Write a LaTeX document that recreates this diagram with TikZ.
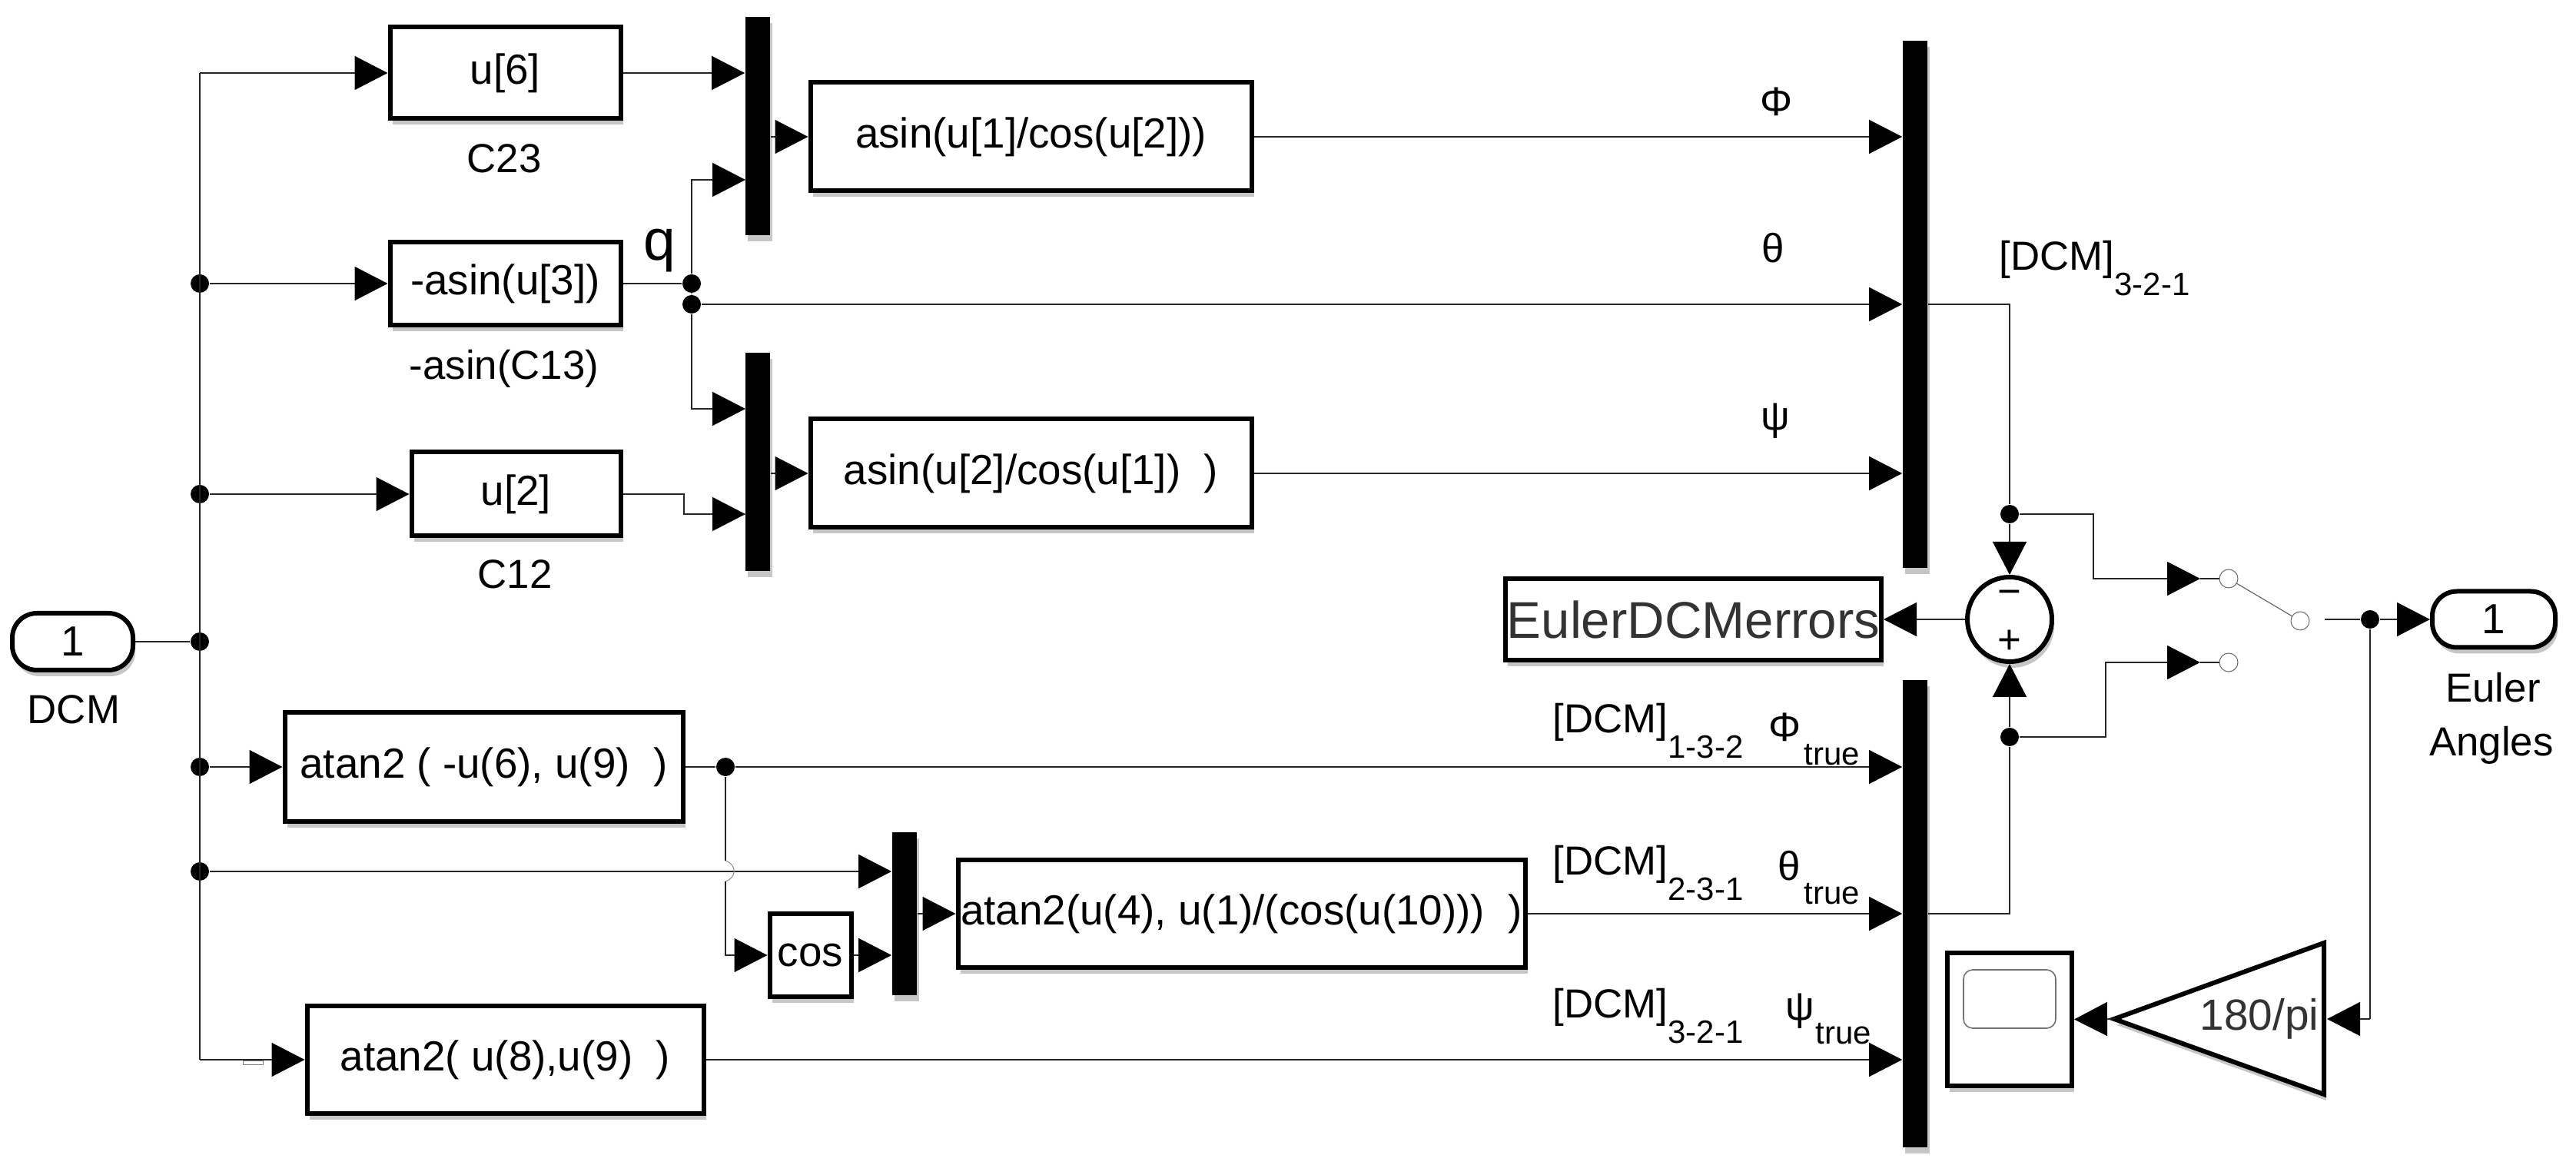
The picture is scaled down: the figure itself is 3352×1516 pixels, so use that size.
\documentclass[tikz,border=0pt]{standalone}
\usepackage{fontspec}
\setmainfont{Liberation Sans}
\usetikzlibrary{arrows.meta,shadows,calc}
\newcommand{\sublab}[1]{\lower8.25pt\hbox{\fontsize{10.5}{12}\selectfont #1}}
\tikzset{
  wh/.style 2 args={minimum width=#1*.25pt,minimum height=#2*.25pt},
  shad/.style={drop shadow={shadow xshift=.8pt,shadow yshift=-2pt,opacity=.45}},
  blk/.style={draw=black,fill=white,line width=1.5pt,inner sep=0pt,shad,font=\fontsize{13.7}{16}\selectfont,text=black},
  muxbar/.style={draw=none,fill=black,inner sep=0pt,minimum width=8pt,shad},
  conn/.style={draw=black!85,line width=.36pt},
  arr/.style={conn,-{Triangle[length=10.75pt,width=11pt]},arrows={-{Triangle[length=10.75pt,width=11pt,color=black]}}},
  jun/.style={circle,fill=black,inner sep=0pt,minimum size=6pt},
  cont/.style={circle,draw=black!60,fill=white,line width=.25pt,inner sep=0pt,minimum size=6pt},
  port/.style={blk,rounded corners=8pt},
  lab/.style={inner sep=0pt,font=\fontsize{13.2}{15}\selectfont,text=black},
  tsub/.style={inner sep=0pt,font=\fontsize{10.5}{12}\selectfont,text=black},
}
\begin{document}
\begin{tikzpicture}[x=.25pt,y=-.25pt]
\useasboundingbox (0,0) rectangle (3352,1516);
% muxes
\node[muxbar,minimum height=71pt] (m1) at (986,164) {};
\node[muxbar,minimum height=71pt] (m2) at (986,601) {};
\node[muxbar,minimum height=53pt] (m3) at (1177,1189) {};
\node[muxbar,minimum height=171.5pt] (M1) at (2492,396) {};
\node[muxbar,minimum height=151.75pt] (M2) at (2492,1189) {};
% blocks
\node[blk,wh={300}{119}] (u6) at (657.5,95) {u[6]};
\node[blk,wh={300}{108}] (asn3) at (657.5,369) {-asin(u[3])};
\node[blk,wh={272}{109}] (u2) at (671.5,643) {u[2]};
\node[blk,wh={574}{141}] (as1) at (1341.5,178) {asin(u[1]/cos(u[2]))};
\node[blk,wh={574}{141}] (as2) at (1341.5,616) {asin(u[2]/cos(u[1])~~)};
\node[blk,wh={518}{142}] (at1) at (629.5,998) {atan2 ( -u(6), u(9)~~)};
\node[blk,wh={106}{108}] (cs) at (1054.5,1243) {cos};
\node[blk,wh={738}{140}] (at3) at (1615.5,1189) {atan2(u(4), u(1)/(cos(u(10)))~~)};
\node[blk,wh={516}{139}] (at4) at (657.5,1379) {atan2( u(8),u(9)~~)};
\node[blk,wh={489}{106},font=\fontsize{16.8}{20}\selectfont,text=black!80] (err) at (2203.5,806) {EulerDCMerrors};
\node[blk,circle,minimum size=27.5pt,inner sep=0pt] (sum) at (2615,806) {};
\node[lab] (smin) at (2615,778) {−};
\node[lab] (spls) at (2615,835) {+};
\node[port,wh={157}{74}] (inp) at (94.5,835) {1};
\node[port,wh={160}{73}] (outp) at (3245,806) {1};
\node[blk,wh={162}{173}] (scope) at (2615,1326.5) {};
\node[draw=black!55,line width=.4pt,rounded corners=3pt,inner sep=0pt,wh={120}{76},fill=white] (scr) at (2615,1300) {};
% gain
\coordinate (gL) at (2751,1326);
\coordinate (gR) at (3024,1326);
\filldraw[draw=black,fill=white,line width=1.5pt,miter limit=10,shad] (3024,1227) -- (gL) -- (3024,1424) -- cycle;
\node[inner sep=0pt,font=\fontsize{14.2}{16}\selectfont,text=black!80] (gtxt) at (2940,1326) {180/pi};
% junctions
\node[jun] (ja) at (260,369) {};
\node[jun] (jb) at (260,643) {};
\node[jun] (jc) at (260,835) {};
\node[jun] (jd) at (260,998) {};
\node[jun] (je) at (260,1134) {};
\node[jun] (jq) at (900,369) {};
\node[jun] (jr) at (900,396) {};
\node[jun] (jt) at (944,998) {};
\node[jun] (js1) at (2615,669) {};
\node[jun] (js2) at (2615,959) {};
\node[jun] (jo) at (3084,806) {};
% switch contacts
\node[cont] (swU) at (2900,753) {};
\node[cont] (swL) at (2900,862) {};
\node[cont] (swO) at (2993,808) {};
% coordinates
\coordinate (ctop) at (260,95);
\coordinate (cbot) at (260,1379);
\coordinate (m1a) at (m1.west |- u6.east);
\coordinate (m1b) at (970,234);
\coordinate (m2a) at (970,532);
\coordinate (m2b) at (970,669);
\coordinate (u2k) at (890,643);
\coordinate (t1) at (2724,669);
\coordinate (t2) at (2740,959);
\coordinate (swUa) at (2863,753);
\coordinate (swLa) at (2863,862);
\coordinate (swOr) at (3025,806);
\coordinate (h1) at (944,1120);
\coordinate (h2) at (944,1147);
\coordinate (gk) at (3084,1326);
\coordinate (gaintip) at (3028,1326);
% main vertical
\draw[conn] (ctop) -- (cbot);
\draw[arr] (ctop) -- (u6.west);
\draw[arr] (ja) -- (asn3.west);
\draw[arr] (jb) -- (u2.west);
\draw[conn] (inp.east) -- (jc);
\draw[arr] (jd) -- (at1.west);
\draw[arr] (je) -- (m3.west |- je);
\draw[arr] (cbot) -- (at4.west);
\draw[draw=black!50,line width=.25pt] (316,1380) rectangle (342,1385);
% top group
\draw[arr] (u6.east) -- (m1a);
\draw[conn] (asn3.east) -- (jq);
\draw[conn] (jq) -- (jr);
\draw[arr] (jq) |- (m1b);
\draw[arr] (jr) |- (m2a);
\draw[arr] (jr) -- (M1.west |- jr);
\draw[arr] (u2.east) -- (u2k) |- (m2b);
\draw[arr] (m1.east |- as1.west) -- (as1.west);
\draw[arr] (m2.east |- as2.west) -- (as2.west);
\draw[arr] (as1.east) -- (M1.west |- as1.east);
\draw[arr] (as2.east) -- (M1.west |- as2.east);
% bottom group
\draw[conn] (at1.east) -- (jt);
\draw[arr] (jt) -- (M2.west |- jt);
\draw[conn] (jt) -- (h1);
\draw[draw=black!45,line width=.25pt] (h1) .. controls (959,1125) and (959,1142) .. (h2);
\draw[arr] (h2) |- (cs.west);
\draw[arr] (cs.east) -- (m3.west |- cs.east);
\draw[arr] (m3.east) -- (at3.west);
\draw[arr] (at3.east) -- (M2.west);
\draw[arr] (at4.east) -- (M2.west |- at4.east);
% right side
\draw[conn] (M1.east) -| (js1);
\draw[arr] (js1) -- (sum.north);
\draw[conn] (M2.east) -| (js2);
\draw[arr] (js2) -- (sum.south);
\draw[arr] (sum.west) -- (err.east);
\draw[arr] (js1) -- (t1) |- (swUa);
\draw[arr] (js2) -- (t2) |- (swLa);
\draw[conn] (swUa) -- (swU);
\draw[conn] (swLa) -- (swL);
\draw[draw=black!60,line width=.3pt] (swU) -- (swO);
\draw[conn] (swOr) -- (jo);
\draw[arr] (jo) -- (outp.west);
\draw[conn] (jo) -- (gk);
\draw[arr] (gk) -- (gaintip);
\draw[arr] (gL) -- (scope.east);
% labels
\node[lab,anchor=base] (lc23) at (656,225) {C23};
\node[lab,anchor=base] (lc13) at (656,494) {-asin(C13)};
\node[lab,anchor=base] (lc12) at (670,766) {C12};
\node[inner sep=0pt,anchor=base,font=\fontsize{18.75}{20}\selectfont] (lq) at (858,339) {q};
\node[lab,anchor=base] (ldcm) at (96,942) {DCM};
\node[lab,anchor=base] (leu) at (3244,914) {Euler};
\node[lab,anchor=base] (lan) at (3242,984) {Angles};
\node[lab,anchor=base] (lphi) at (2312,151) {Φ};
\node[lab,anchor=base] (lth) at (2307,342) {θ};
\node[lab,anchor=base] (lpsi) at (2310,560) {ψ};
\node[lab,anchor=base west] (ld0) at (2601,352) {[DCM]\sublab{3-2-1}};
\node[lab,anchor=base west] (ld1) at (2020,954) {[DCM]\sublab{1-3-2}};
\node[lab,anchor=base west] (ld2) at (2020,1139) {[DCM]\sublab{2-3-1}};
\node[lab,anchor=base west] (ld3) at (2020,1324) {[DCM]\sublab{3-2-1}};
\node[lab,anchor=base] (lp1) at (2323,965) {Φ};
\node[tsub,anchor=base west] (lt1) at (2347,996) {true};
\node[lab,anchor=base] (lp2) at (2328,1146) {θ};
\node[tsub,anchor=base west] (lt2) at (2347,1177) {true};
\node[lab,anchor=base] (lp3) at (2342,1327) {ψ};
\node[tsub,anchor=base west] (lt3) at (2362,1358) {true};
\end{tikzpicture}
\end{document}
